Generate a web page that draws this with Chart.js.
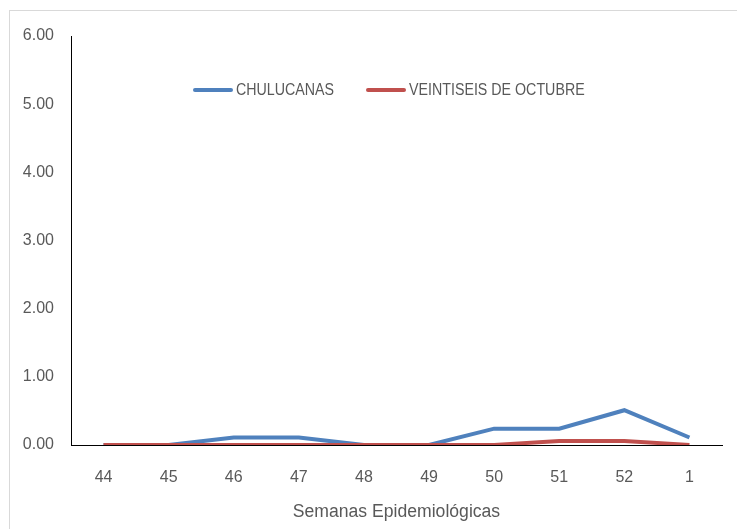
<!DOCTYPE html>
<html>
<head>
<meta charset="utf-8">
<script src="https://cdn.jsdelivr.net/npm/chart.js@4"></script>
<style>
html,body{margin:0;padding:0;width:737px;height:529px;overflow:hidden;background:#fff;}
#frame{position:absolute;left:9px;top:10px;width:760px;height:560px;border:1px solid #d9d9d9;box-sizing:border-box;}
#wrap{position:absolute;left:0;top:0;width:737px;height:529px;}
#legend{position:absolute;top:80px;left:193px;height:20px;font-family:"Liberation Sans",sans-serif;font-size:16px;color:#595959;}
.item{position:absolute;top:0;white-space:nowrap;line-height:20px;}
.sw{display:inline-block;width:40px;height:4px;border-radius:2px;vertical-align:middle;margin-right:3px;position:relative;top:-1px;}
.tx{display:inline-block;transform:scaleX(0.89);transform-origin:0 50%;}
</style>
</head>
<body>
<div id="frame"></div>
<div id="wrap"><canvas id="c" width="737" height="529"></canvas></div>
<div id="legend"></div>
<script>
const categories = ["44","45","46","47","48","49","50","51","52","1"];
const seriesNames = ["CHULUCANAS","VEINTISEIS DE OCTUBRE"];
const chulucanas = [0,0,0.11,0.11,0,0,0.24,0.24,0.51,0.11];
const veintiseis = [0,0,0,0,0,0,0,0.06,0.06,0];
const seriesColors = ["#4f81bd","#c0504d"];
const yTicks = [0,1,2,3,4,5,6];
const xTitle = "Semanas Epidemiológicas";

const FONT = "'Liberation Sans',sans-serif";
const TXT = "#595959";

// HTML legend
const lg = document.getElementById('legend');
const legendOffsets = [0, 173];
seriesNames.forEach((n,i)=>{
  const d = document.createElement('div');
  d.className='item';
  d.style.left = legendOffsets[i]+'px';
  const s = document.createElement('span');
  s.className='sw'; s.style.background = seriesColors[i];
  d.appendChild(s);
  const t = document.createElement('span');
  t.className='tx'; t.textContent = n;
  d.appendChild(t);
  lg.appendChild(d);
});

new Chart(document.getElementById('c'), {
  type:'line',
  data:{
    labels:categories,
    datasets:[
      {label:seriesNames[0],data:chulucanas,borderColor:seriesColors[0],backgroundColor:seriesColors[0],borderWidth:4,pointRadius:0,tension:0,order:1,borderCapStyle:'butt'},
      {label:seriesNames[1],data:veintiseis,borderColor:seriesColors[1],backgroundColor:seriesColors[1],borderWidth:4,pointRadius:0,tension:0,order:0,borderCapStyle:'butt'}
    ]
  },
  options:{
    responsive:false,
    animation:false,
    layout:{padding:{top:36,right:15,left:0,bottom:0}},
    plugins:{legend:{display:false},tooltip:{enabled:false}},
    scales:{
      x:{
        offset:true,
        grid:{display:false,drawTicks:false},
        border:{display:true,color:'#000',width:1},
        ticks:{color:TXT,font:{family:FONT,size:16},padding:23,maxRotation:0},
        title:{display:true,text:xTitle,color:TXT,font:{family:FONT,size:17.6},padding:{top:4,bottom:6}},
        afterFit:(s)=>{s.height=84;}
      },
      y:{
        min:0,max:6,
        afterBuildTicks:(s)=>{s.ticks = yTicks.map(v=>({value:v}));},
        grid:{display:false,drawTicks:false},
        border:{display:true,color:'#000',width:1},
        ticks:{color:TXT,font:{family:FONT,size:16},padding:17,callback:(v)=>Number(v).toFixed(2)},
        afterFit:(s)=>{s.width=71;}
      }
    }
  }
});
</script>
</body>
</html>
